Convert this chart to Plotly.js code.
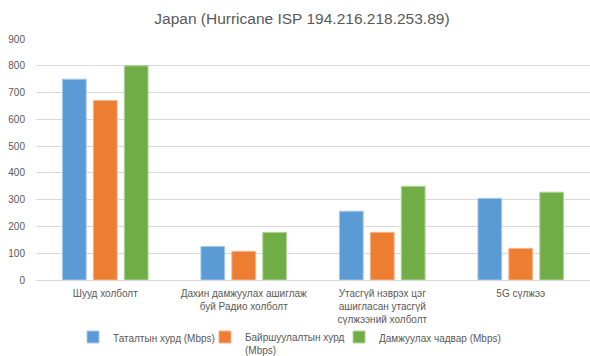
<!DOCTYPE html>
<html><head><meta charset="utf-8">
<script src="https://cdn.plot.ly/plotly-3.0.1.min.js"></script>
<style>html,body{margin:0;padding:0;background:#fff}#chart{width:590px;height:356px}</style>
</head><body><div id="chart"></div>
<script>
var categories = ["Шууд холболт", "Дахин дамжуулах ашиглаж<br>буй Радио холболт", "Утасгүй нэврэх цэг<br>ашигласан утасгүй<br>сүлжээний холболт", "5G сүлжээ"];
var downloadSpeed = [750, 125, 257, 305];
var uploadSpeed = [670, 107, 178, 118];
var throughput = [800, 178, 350, 328];
var seriesNames = ["Таталтын хурд (Mbps)", "Байршуулалтын хурд<br>(Mbps)", "Дамжуулах чадвар (Mbps)"];
var yTicks = [0, 100, 200, 300, 400, 500, 600, 700, 800, 900];

var colors = ["#5B9BD5", "#ED7D31", "#70AD47"];
var outline = ["#A9CBEA", "#F5B48F", "#B3D49E"];
var legendIds = ["legend", "legend2", "legend3"];
var legendX = [0.0668, 0.305, 0.547];
var vals = [downloadSpeed, uploadSpeed, throughput];
var traces = vals.map(function(v, i){
  return {type:"bar", x:categories, y:v, name:seriesNames[i], legend:legendIds[i],
    marker:{color:colors[i], line:{color:outline[i], width:1}}, hoverinfo:"none"};
});
var FONT = "Liberation Sans, Arial, sans-serif";
var layout = {
  width:590, height:356,
  margin:{l:36, r:0, t:39, b:76, autoexpand:false},
  paper_bgcolor:"#fff", plot_bgcolor:"#fff",
  font:{family:FONT, size:10, color:"#595959"},
  title:{text:"Japan (Hurricane ISP 194.216.218.253.89)", font:{size:15.5, color:"#595959", family:FONT}, x:0.48, xanchor:"center", xref:"paper", y:0.949, yanchor:"middle", yref:"container"},
  bargap:0.33, bargroupgap:0.23, barmode:"group",
  xaxis:{tickfont:{size:10, color:"#595959"}, showgrid:false, showline:false, ticks:"", ticklabelstandoff:6, fixedrange:true},
  yaxis:{range:[0,900], tickvals:yTicks, ticktext:yTicks.map(String), gridcolor:"#D9D9D9", gridwidth:1, zeroline:true, zerolinecolor:"#D9D9D9", showline:false, ticks:"", ticklabelstandoff:10, tickfont:{size:10, color:"#595959"}, fixedrange:true},
  showlegend:true
};
legendIds.forEach(function(id, i){
  layout[id] = {orientation:"h", x:legendX[i], xanchor:"left", y:-0.1826, yanchor:"top", bgcolor:"rgba(0,0,0,0)", font:{size:10, color:"#595959"}, itemwidth:30, valign:"top"};
});
Plotly.newPlot("chart", traces, layout, {displayModeBar:false, staticPlot:true});
</script></body></html>
